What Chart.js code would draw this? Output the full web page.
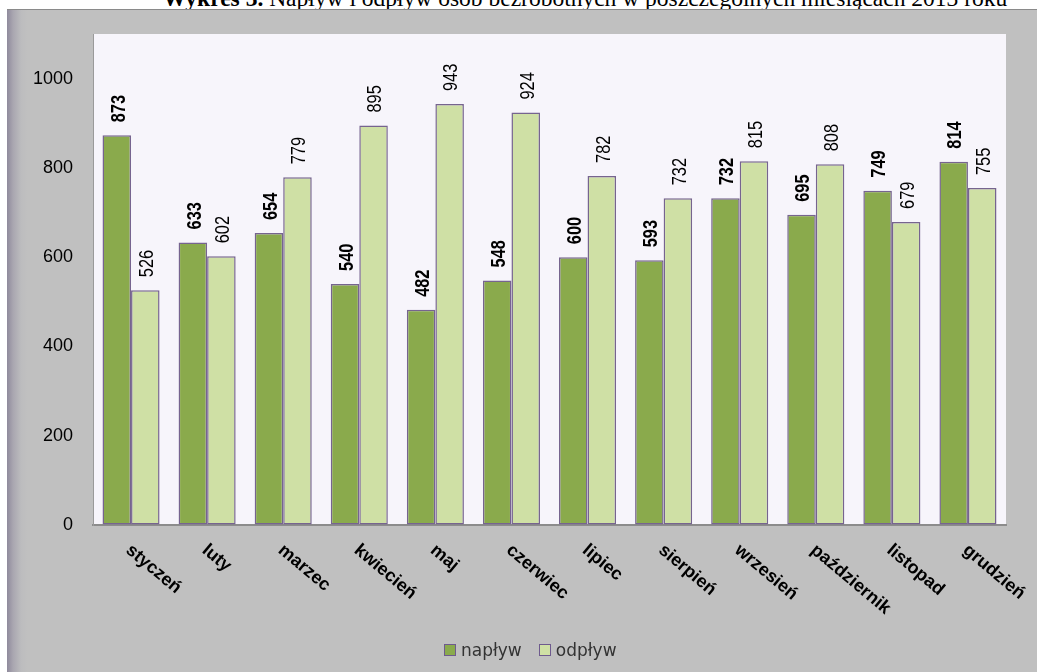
<!DOCTYPE html>
<html lang="pl">
<head>
<meta charset="utf-8">
<title>Napływ i odpływ osób bezrobotnych</title>
<script src="https://cdn.jsdelivr.net/npm/chart.js@4/dist/chart.umd.min.js"></script>
<style>
  body { margin: 0; background: #fff; width: 1037px; height: 672px; overflow: hidden; position: relative; }
  #title {
    position: absolute; left: 0; top: -15px; width: 1170px; text-align: center;
    font-family: "Liberation Serif", "Times New Roman", serif; font-size: 23.5px; color: #000;
    white-space: nowrap;
  }
  #frame {
    position: absolute; left: 7px; top: 9px; width: 1030px; height: 663px;
    background: linear-gradient(to right, #8f8a9c 0px, #a9a6b0 6px, #bcbcbe 14px, #c0c0c0 20px);
    border-top: 1px solid #8a8a8a; box-sizing: border-box;
  }
  #frame canvas { position: absolute; left: 0; top: -1px; }
  #legend {
    position: absolute; left: 444px; top: 640px; font-family: "DejaVu Sans", Verdana, sans-serif;
    font-size: 17px; color: #333; display: flex; align-items: center;
  }
  #legend span.box { display: inline-block; width: 10px; height: 10px; border: 1.5px solid #6e5a8e; margin-right: 5px; }
  #legend span.item { display: flex; align-items: center; margin-right: 17px; }
</style>
</head>
<body>
<div id="title"><b>Wykres 3.</b> Napływ i odpływ osób bezrobotnych w poszczególnych miesiącach 2013 roku</div>
<div id="frame"><canvas id="chart" width="1030" height="663"></canvas></div>
<div id="legend"></div>
<script>
// miesiące i liczba osób (napływ / odpływ)
const months = ['styczeń', 'luty', 'marzec', 'kwiecień', 'maj', 'czerwiec', 'lipiec', 'sierpień', 'wrzesień', 'październik', 'listopad', 'grudzień'];
const naplyw = [873, 633, 654, 540, 482, 548, 600, 593, 732, 695, 749, 814];
const odplyw = [526, 602, 779, 895, 943, 924, 782, 732, 815, 808, 679, 755];
const yTicks = [0, 200, 400, 600, 800, 1000];

const darkGreen = '#8aaa4c';
const lightGreen = '#cfe0a5';
const edge = '#76648f';

// tło obszaru wykresu
const plotBackground = {
  id: 'plotBackground',
  beforeDraw(chart) {
    const { ctx, chartArea: a } = chart;
    ctx.save();
    ctx.fillStyle = '#f7f5fb';
    ctx.fillRect(a.left, a.top, a.right - a.left, a.bottom - a.top);
    ctx.restore();
  }
};

// pionowe etykiety wartości nad słupkami (zwężona czcionka)
const valueLabels = {
  id: 'valueLabels',
  afterDatasetsDraw(chart) {
    const ctx = chart.ctx;
    chart.data.datasets.forEach((ds, i) => {
      const meta = chart.getDatasetMeta(i);
      meta.data.forEach((bar, j) => {
        ctx.save();
        ctx.translate(bar.x + 2, bar.y - 13);
        ctx.rotate(-Math.PI / 2);
        ctx.scale(0.78, 1);
        ctx.font = (i === 0 ? 'bold ' : '') + '21px "Liberation Sans", Arial, sans-serif';
        ctx.fillStyle = '#000';
        ctx.textAlign = 'left';
        ctx.textBaseline = 'middle';
        ctx.fillText(String(ds.data[j]), 0, 0);
        ctx.restore();
      });
    });
  }
};

// ukośne nazwy miesięcy pod osią
const monthLabels = {
  id: 'monthLabels',
  afterDraw(chart) {
    const ctx = chart.ctx;
    const x = chart.scales.x;
    const bottom = chart.chartArea.bottom;
    months.forEach((m, i) => {
      ctx.save();
      ctx.translate(x.getPixelForTick(i) + 3, bottom + 16);
      ctx.rotate(40 * Math.PI / 180);
      ctx.font = 'bold 18px "Liberation Sans", Arial, sans-serif';
      ctx.fillStyle = '#000';
      ctx.textAlign = 'left';
      ctx.textBaseline = 'top';
      ctx.fillText(m, 0, 0);
      ctx.restore();
    });
  }
};

const ctx = document.getElementById('chart').getContext('2d');
const chart = new Chart(ctx, {
  type: 'bar',
  data: {
    labels: months,
    datasets: [
      { label: 'napływ', data: naplyw, backgroundColor: darkGreen, borderColor: edge, borderWidth: 1.5, borderSkipped: false },
      { label: 'odpływ', data: odplyw, backgroundColor: lightGreen, borderColor: edge, borderWidth: 1.5, borderSkipped: false }
    ]
  },
  options: {
    responsive: false,
    animation: false,
    layout: { padding: { left: 0, top: 25, right: 31, bottom: 147 } },
    datasets: { bar: { categoryPercentage: 0.75, barPercentage: 1.0 } },
    plugins: { legend: { display: false }, tooltip: { enabled: false } },
    scales: {
      x: {
        grid: { display: false, drawTicks: false },
        border: { color: '#8c8c8c', width: 2 },
        ticks: { display: false },
        afterFit(scale) { scale.height = 0; }
      },
      y: {
        min: 0,
        max: 1100,
        grid: { color: 'transparent', drawTicks: false },
        border: { color: '#9a9a9a', width: 1 },
        ticks: {
          padding: 20,
          color: '#000',
          font: { family: '"Liberation Sans", Arial, sans-serif', size: 18 },
          callback: v => String(v)
        },
        afterBuildTicks(scale) { scale.ticks = yTicks.map(v => ({ value: v })); },
        afterFit(scale) {
          scale.width = 86;
          scale.paddingTop = 0;
          scale.paddingBottom = 0;
        }
      }
    }
  },
  plugins: [plotBackground, valueLabels, monthLabels]
});

// legenda
const legend = document.getElementById('legend');
chart.data.datasets.forEach(ds => {
  const item = document.createElement('span');
  item.className = 'item';
  const box = document.createElement('span');
  box.className = 'box';
  box.style.background = ds.backgroundColor;
  item.appendChild(box);
  item.appendChild(document.createTextNode(ds.label));
  legend.appendChild(item);
});
</script>
</body>
</html>
